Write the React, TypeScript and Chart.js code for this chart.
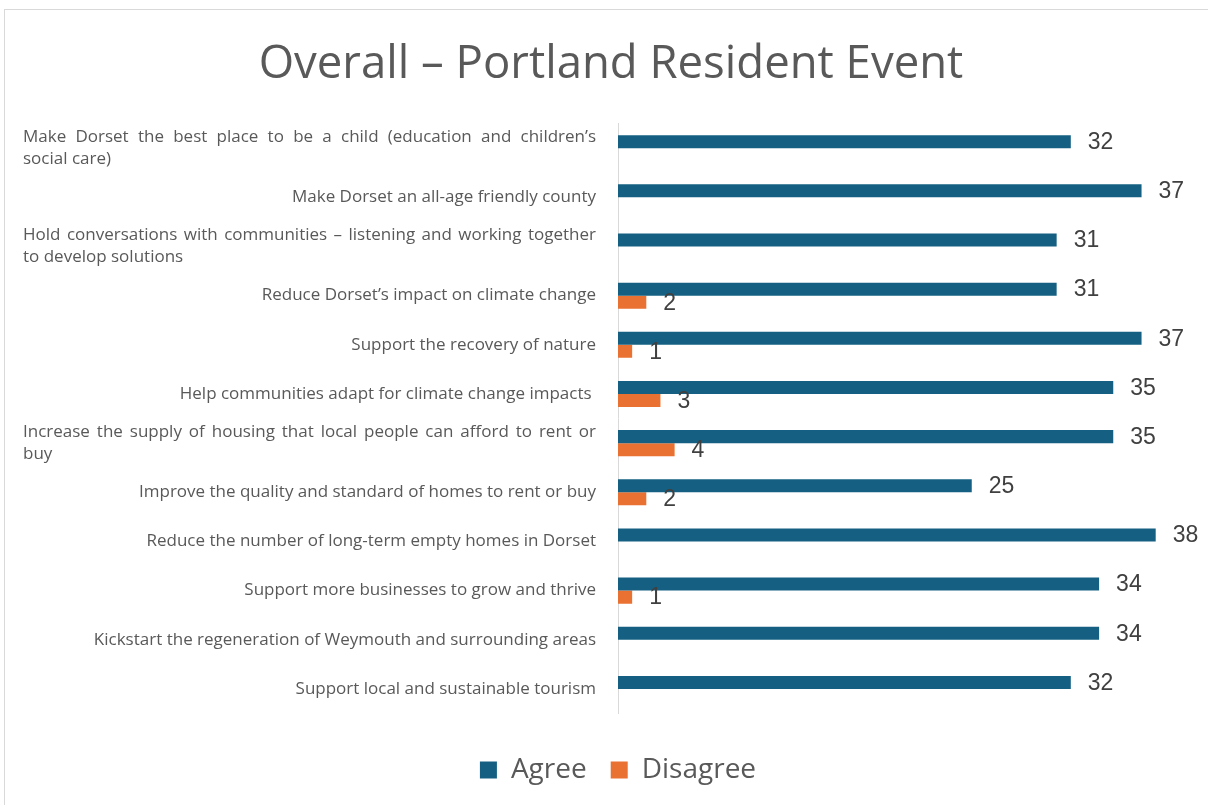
import React, { useEffect, useRef } from 'react';
import { Chart, registerables } from 'chart.js';

Chart.register(...registerables);

const categories: (string | string[])[] = [
  ['Make Dorset the best place to be a child (education and children’s', 'social care)'],
  'Make Dorset an all-age friendly county',
  ['Hold conversations with communities – listening and working together', 'to develop solutions'],
  'Reduce Dorset’s impact on climate change',
  'Support the recovery of nature',
  'Help communities adapt for climate change impacts ',
  ['Increase the supply of housing that local people can afford to rent or', 'buy'],
  'Improve the quality and standard of homes to rent or buy',
  'Reduce the number of long-term empty homes in Dorset',
  'Support more businesses to grow and thrive',
  'Kickstart the regeneration of Weymouth and surrounding areas',
  'Support local and sustainable tourism',
];

const agreeValues: (number | null)[] = [32, 37, 31, 31, 37, 35, 35, 25, 38, 34, 34, 32];
const disagreeValues: (number | null)[] = [null, null, null, 2, 1, 3, 4, 2, null, 1, null, null];
const seriesNames = ['Agree', 'Disagree'];
const titleText = 'Overall – Portland Resident Event';
const xMin = 0;
const xMax = 40;

const FONT = '"Open Sans"';
const VALUE_FONT = '"Liberation Sans"';
const TEXT_COLOR = '#595959';
const VALUE_COLOR = '#404040';
const AGREE_COLOR = '#156082';
const DISAGREE_COLOR = '#E97132';

const LABEL_LEFT = 23;
const LABEL_RIGHT = 596;
const LABEL_LINE_H = 22;
const LEGEND_SHIFT = 26;
const TITLE_SHIFT = 19;

function drawJustified(ctx: CanvasRenderingContext2D, text: string, left: number, right: number, y: number) {
  const words = text.split(' ');
  const widths = words.map((w) => ctx.measureText(w).width);
  const total = widths.reduce((a, b) => a + b, 0);
  const gap = words.length > 1 ? (right - left - total) / (words.length - 1) : 0;
  let x = left;
  ctx.textAlign = 'left';
  words.forEach((w, i) => {
    ctx.fillText(w, x, y);
    x += widths[i] + gap;
  });
}

const yLabelPlugin = {
  id: 'customYLabels',
  afterLayout(chart: any) {
    if (chart.legend) {
      chart.legend.left += LEGEND_SHIFT;
      chart.legend.right += LEGEND_SHIFT;
    }
    if (chart.titleBlock) {
      chart.titleBlock.left += TITLE_SHIFT;
      chart.titleBlock.right += TITLE_SHIFT;
    }
  },
  afterDraw(chart: any) {
    const ctx: CanvasRenderingContext2D = chart.ctx;
    const yScale = chart.scales.y;
    ctx.save();
    ctx.font = `17px ${FONT}`;
    ctx.fillStyle = TEXT_COLOR;
    ctx.textBaseline = 'middle';
    (chart.data.labels as (string | string[])[]).forEach((label, i) => {
      const y = yScale.getPixelForTick(i);
      if (Array.isArray(label)) {
        const n = label.length;
        label.forEach((line, j) => {
          const ly = y + (j - (n - 1) / 2) * LABEL_LINE_H;
          if (j < n - 1) {
            drawJustified(ctx, line, LABEL_LEFT, LABEL_RIGHT, ly);
          } else {
            ctx.textAlign = 'left';
            ctx.fillText(line, LABEL_LEFT, ly);
          }
        });
      } else {
        ctx.textAlign = 'right';
        ctx.fillText(label, LABEL_RIGHT, y);
      }
    });
    ctx.restore();
  },
};

const valueLabelPlugin = {
  id: 'valueLabels',
  afterDatasetsDraw(chart: any) {
    const ctx: CanvasRenderingContext2D = chart.ctx;
    ctx.save();
    ctx.font = `23px ${VALUE_FONT}`;
    ctx.fillStyle = VALUE_COLOR;
    ctx.textAlign = 'left';
    ctx.textBaseline = 'middle';
    chart.data.datasets.forEach((ds: any, di: number) => {
      const meta = chart.getDatasetMeta(di);
      meta.data.forEach((el: any, i: number) => {
        const v = ds.data[i];
        if (v === null || v === undefined) return;
        ctx.fillText(String(v), el.x + 17, el.y + 1);
      });
    });
    ctx.restore();
  },
};

export default function App() {
  const canvasRef = useRef<HTMLCanvasElement | null>(null);

  useEffect(() => {
    if (!canvasRef.current) return;
    const chart = new Chart(canvasRef.current, {
      type: 'bar',
      data: {
        labels: categories,
        datasets: [
          {
            label: seriesNames[0],
            data: agreeValues,
            backgroundColor: AGREE_COLOR,
            categoryPercentage: 0.53,
            barPercentage: 1,
          },
          {
            label: seriesNames[1],
            data: disagreeValues,
            backgroundColor: DISAGREE_COLOR,
            categoryPercentage: 0.53,
            barPercentage: 1,
          },
        ],
      },
      options: {
        indexAxis: 'y',
        animation: false,
        responsive: true,
        maintainAspectRatio: false,
        layout: { padding: { top: 0, right: 24, bottom: 11, left: 0 } },
        scales: {
          x: {
            min: xMin,
            max: xMax,
            display: true,
            grid: { display: false },
            border: { display: false },
            ticks: { display: false },
            afterFit: (scale: any) => {
              scale.height = 18.5;
            },
          },
          y: {
            grid: { display: false },
            border: { display: true, color: '#d9d9d9', width: 1 },
            ticks: { display: false },
            afterFit: (scale: any) => {
              scale.width = 618;
            },
          },
        },
        plugins: {
          title: {
            display: true,
            text: titleText,
            color: TEXT_COLOR,
            font: { family: FONT, size: 45.5, weight: 'normal', lineHeight: 1.2 },
            padding: { top: 38, bottom: 31 },
          },
          legend: {
            display: true,
            position: 'bottom',
            labels: {
              color: TEXT_COLOR,
              font: { family: FONT, size: 28 },
              boxWidth: 17,
              boxHeight: 17,
              padding: 24,
            },
          },
          tooltip: { enabled: false },
        },
      },
      plugins: [yLabelPlugin, valueLabelPlugin],
    });
    return () => chart.destroy();
  }, []);

  return (
    <div style={{ position: 'fixed', left: 0, top: 0, width: 1208, height: 805, background: '#fff' }}>
      <canvas ref={canvasRef} />
      <div
        style={{
          position: 'absolute',
          left: 4,
          top: 9,
          width: 1210,
          height: 800,
          borderTop: '1px solid #d9d9d9',
          borderLeft: '1px solid #d9d9d9',
          pointerEvents: 'none',
        }}
      />
    </div>
  );
}
